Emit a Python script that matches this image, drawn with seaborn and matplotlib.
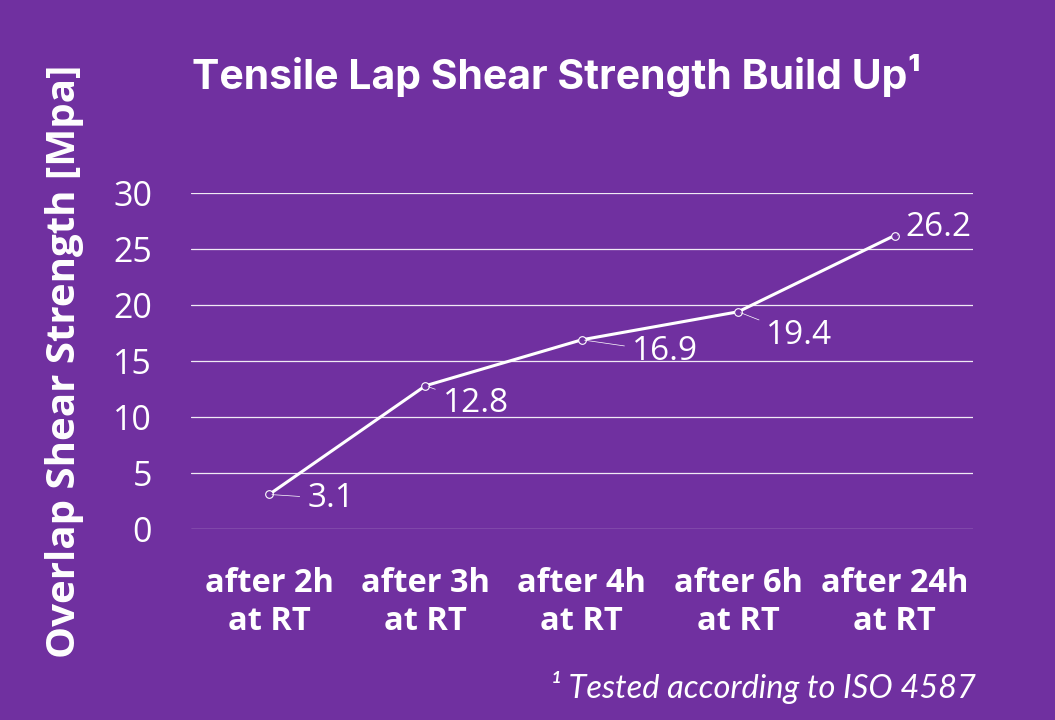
import pandas as pd
import matplotlib.pyplot as plt
import seaborn as sns

# ======================
# Data
# ======================

categories = ["after 2h\nat RT", "after 3h\nat RT", "after 4h\nat RT", "after 6h\nat RT", "after 24h\nat RT"]
strength = [3.1, 12.8, 16.9, 19.4, 26.2]
y_ticks = [0, 5, 10, 15, 20, 25, 30]
# label offsets in pixels (dx, dy) from each point
label_offsets = [(38, -4), (17, -18), (50, -12), (28, -24), (11, 8)]

df = pd.DataFrame({"time": categories, "mpa": strength})

purple = "#7030A0"

# ======================
# Plot
# ======================

sns.set_theme(style="white")
plt.rcParams["font.family"] = ["Open Sans", "DejaVu Sans"]

fig = plt.figure(figsize=(10.55, 7.2), dpi=100, facecolor=purple)
ax = fig.add_axes([0.181, 0.265, 0.741, 0.467])
ax.set_facecolor(purple)

sns.lineplot(data=df, x="time", y="mpa", ax=ax, color="white", linewidth=2.2,
             marker="o", markersize=5.5, markerfacecolor=purple,
             markeredgecolor="white", markeredgewidth=0.8, sort=False)

ax.set_xlim(-0.5, len(categories) - 0.5)
ax.set_ylim(0, 30)
ax.set_yticks(y_ticks)
ax.yaxis.grid(True, color="white", linewidth=0.9, alpha=0.9)
ax.set_axisbelow(True)
for s in ax.spines.values():
    s.set_visible(False)

ax.tick_params(axis="y", labelsize=24.5, labelcolor="white", pad=28, length=0)
ax.tick_params(axis="x", labelsize=23.5, labelcolor="white", pad=27, length=0)
for lbl in ax.get_xticklabels():
    lbl.set_fontweight("bold")
    lbl.set_linespacing(1.22)

ax.set_xlabel("")
ax.set_ylabel("Overlap Shear Strength [Mpa]", fontsize=29, fontweight="bold",
              color="white")
ax.yaxis.set_label_coords(-0.137, 0.5)

# data labels
for i, (v, off) in enumerate(zip(strength, label_offsets)):
    ax.annotate(f"{v}", xy=(i, v), xytext=off, textcoords="offset pixels",
                ha="left", va="center", fontsize=24, color="white",
                arrowprops=dict(arrowstyle="-", color="white", lw=0.5,
                                shrinkA=3, shrinkB=2))

fig.text(0.182, 0.895, "Tensile Lap Shear Strength Build Up\u00b9", fontsize=29.5,
         fontweight="bold", color="white", ha="left", va="center",
         family=["Inter", "DejaVu Sans"])
fig.text(0.925, 0.045, "\u00b9 Tested according to ISO 4587", fontsize=23.5,
         style="italic", color="white", ha="right", va="center",
         family=["Lato", "DejaVu Sans"])

fig.savefig("out.png", dpi=100, facecolor=purple)
